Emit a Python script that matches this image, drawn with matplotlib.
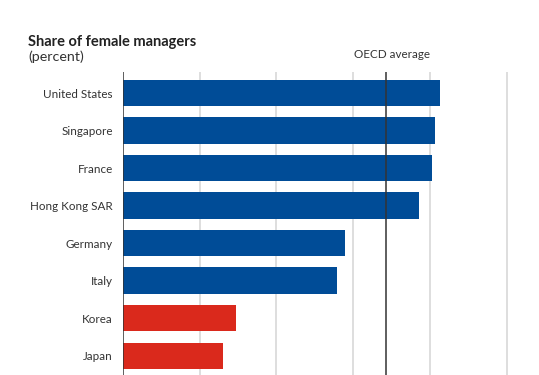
#Horizontal bar chart: share of female managers by economy, with OECD average line

import numpy as np
import matplotlib
matplotlib.use('Agg')
import matplotlib.pyplot as plt

plt.rcParams['font.family'] = ['Lato', 'DejaVu Sans']

#Data (percent)
countries = ['United States', 'Singapore', 'France', 'Hong Kong SAR',
             'Germany', 'Italy', 'Korea', 'Japan']
share = [41.3, 40.6, 40.3, 38.5, 28.9, 27.9, 14.7, 13.0]
highlight = [False, False, False, False, False, False, True, True]
oecd_avg = 34.2
grid_ticks = [0, 10, 20, 30, 40, 50]

blue = '#004C97'
red = '#DA291C'
text_col = '#333333'

#---------Plotting begins here------
fig = plt.figure(figsize=(5.39, 3.75), dpi=100)
ax = fig.add_axes([0.2276, 0.0, 0.945 - 0.2276, 0.808])

y = np.arange(len(countries))
colors = [red if h else blue for h in highlight]
ax.barh(y, share, height=0.70, color=colors, zorder=3)

ax.set_xlim(0, 50.3)
ax.set_ylim(len(countries) - 0.485, -0.56)

#light vertical grid
for g in grid_ticks[1:]:
    ax.axvline(g, color='#d4d4d4', lw=1.1, zorder=1)

ax.axvline(oecd_avg, color='#333333', lw=1.1, zorder=4)
ax.axvline(0, color='#333333', lw=1.1, zorder=4)

ax.set_yticks(y)
ax.set_yticklabels(countries, fontsize=8.4, color=text_col)
ax.tick_params(axis='y', length=0, pad=7)
ax.set_xticks([])
for s in ax.spines.values():
    s.set_visible(False)

fig.text(28 / 539, 1 - 42 / 375, 'Share of female managers', fontsize=10.5,
         fontweight='bold', color='#222222', va='center', ha='left')
fig.text(28 / 539, 1 - 57 / 375, '(percent)', fontsize=10.3,
         color=text_col, va='center', ha='left')
fig.text(392.5 / 539, 1 - 55 / 375, 'OECD average', fontsize=8.4,
         color=text_col, va='center', ha='center')

fig.savefig('out.png', dpi=100)
